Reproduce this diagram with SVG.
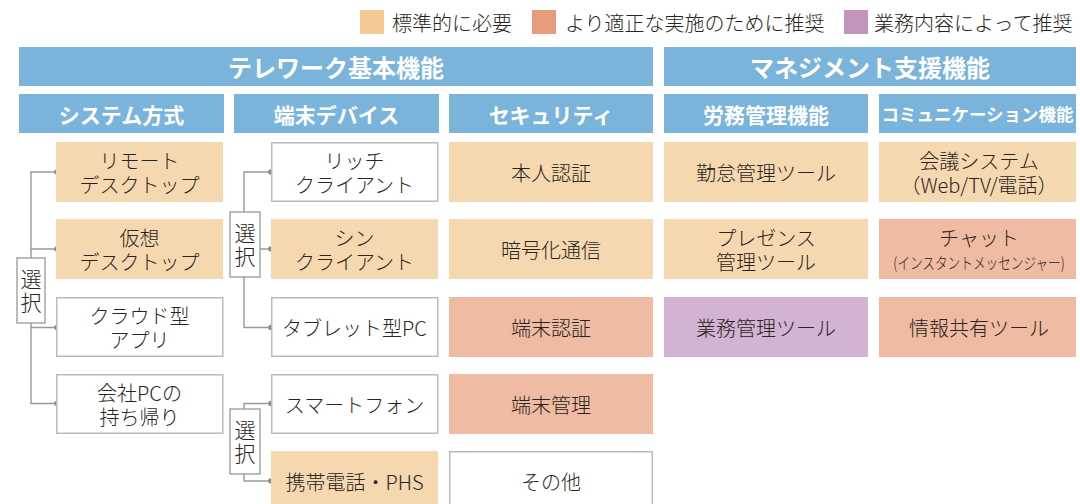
<svg xmlns="http://www.w3.org/2000/svg" width="1080" height="504" viewBox="0 0 1080 504">
<style>
.hd{fill:#7AB4DA}
.ht{font-family:"Noto Sans CJK JP","Noto Sans",sans-serif;font-weight:700;fill:#fff;text-anchor:middle;dominant-baseline:central}
.t{font-family:"Noto Sans CJK JP","Noto Sans",sans-serif;font-weight:300;font-size:20px;fill:#2A2420;text-anchor:middle;dominant-baseline:central}
.ts{font-family:"Noto Sans CJK JP","Noto Sans",sans-serif;font-weight:300;font-size:16px;fill:#2A2420;text-anchor:middle;dominant-baseline:central}
.lg{font-family:"Noto Sans CJK JP","Noto Sans",sans-serif;font-weight:300;font-size:20px;fill:#2A2420;dominant-baseline:central}
.pe{fill:#F5D8AF}
.sa{fill:#EFBBA2}
.pu{fill:#D3B3D3}
.wh{fill:#fff;stroke:#BBBBBB;stroke-width:1.5}
.ln{fill:none;stroke:#999;stroke-width:1.4}
.dot{fill:#8C8C8C}
.sel{fill:#fff;stroke:#999;stroke-width:1.3}
.st{font-family:"Noto Sans CJK JP","Noto Sans",sans-serif;font-weight:300;font-size:21px;fill:#2A2420;text-anchor:middle;writing-mode:vertical-rl;letter-spacing:2px}
</style>
<rect width="1080" height="504" fill="#fff"/>
<g id="legend">
<rect x="360" y="10" width="24" height="24" fill="#F2C990"/>
<text class="lg" x="392" y="22">標準的に必要</text>
<rect x="532" y="10" width="24" height="24" fill="#E89C7A"/>
<text class="lg" x="565" y="22">より適正な実施のために推奨</text>
<rect x="844" y="10" width="24" height="24" fill="#C394BE"/>
<text class="lg" x="874" y="22">業務内容によって推奨</text>
</g>
<g id="headers">
<rect class="hd" x="19" y="47" width="634" height="39"/>
<text class="ht" x="336" y="66.5" font-size="24">テレワーク基本機能</text>
<rect class="hd" x="664" y="47" width="412" height="39"/>
<text class="ht" x="870" y="66.5" font-size="24">マネジメント支援機能</text>
<rect class="hd" x="19" y="94" width="205" height="39"/>
<text class="ht" x="121.5" y="113.5" font-size="21">システム方式</text>
<rect class="hd" x="234" y="94" width="205" height="39"/>
<text class="ht" x="336.5" y="113.5" font-size="21">端末デバイス</text>
<rect class="hd" x="449" y="94" width="204" height="39"/>
<text class="ht" x="551" y="113.5" font-size="21">セキュリティ</text>
<rect class="hd" x="664" y="94" width="204" height="39"/>
<text class="ht" x="766" y="113.5" font-size="21">労務管理機能</text>
<rect class="hd" x="879" y="94" width="197" height="39"/>
<text class="ht" x="977.5" y="113.5" font-size="17.5">コミュニケーション機能</text>
</g>
<g id="connectors">
<path class="ln" d="M57 172H31V258M31 323V403.5H57M31 249H57M31 327.5H57"/>
<path class="ln" d="M271 172H244V212M244 277V327.5H271M260 249H271"/>
<path class="ln" d="M271 403.5H244V409M244 474V481H271"/>
<circle class="dot" cx="57" cy="172" r="2.8"/>
<circle class="dot" cx="57" cy="249" r="2.8"/>
<circle class="dot" cx="57" cy="327.5" r="2.8"/>
<circle class="dot" cx="57" cy="403.5" r="2.8"/>
<circle class="dot" cx="271" cy="172" r="2.8"/>
<circle class="dot" cx="271" cy="249" r="2.8"/>
<circle class="dot" cx="271" cy="327.5" r="2.8"/>
<circle class="dot" cx="271" cy="403.5" r="2.8"/>
<circle class="dot" cx="271" cy="481" r="2.8"/>
</g>
<g id="sel1">
<rect class="sel" x="17" y="258" width="28" height="65"/>
<text class="st" x="31" y="292">選択</text>
</g>
<g id="sel2">
<rect class="sel" x="230" y="212" width="30" height="65"/>
<text class="st" x="245" y="246">選択</text>
</g>
<g id="sel3">
<rect class="sel" x="230" y="409" width="30" height="65"/>
<text class="st" x="245" y="443">選択</text>
</g>
<g id="n-remote"><rect class="pe" x="56" y="142" width="167" height="60"/><text class="t"><tspan x="139.5" y="160">リモート</tspan><tspan x="139.5" y="184">デスクトップ</tspan></text></g>
<g id="n-virtual"><rect class="pe" x="56" y="219" width="167" height="60"/><text class="t"><tspan x="139.5" y="237">仮想</tspan><tspan x="139.5" y="261">デスクトップ</tspan></text></g>
<g id="n-cloud"><rect class="wh" x="56.75" y="297.75" width="166" height="58.5"/><text class="t"><tspan x="139.5" y="315">クラウド型</tspan><tspan x="139.5" y="339">アプリ</tspan></text></g>
<g id="n-pc"><rect class="wh" x="56.75" y="374.75" width="166" height="58.5"/><text class="t"><tspan x="139.5" y="392">会社PCの</tspan><tspan x="139.5" y="416">持ち帰り</tspan></text></g>
<g id="n-rich"><rect class="wh" x="271.75" y="142.75" width="166" height="58.5"/><text class="t"><tspan x="354.5" y="160">リッチ</tspan><tspan x="354.5" y="184">クライアント</tspan></text></g>
<g id="n-thin"><rect class="pe" x="271" y="219" width="167" height="60"/><text class="t"><tspan x="354.5" y="237">シン</tspan><tspan x="354.5" y="261">クライアント</tspan></text></g>
<g id="n-tablet"><rect class="wh" x="271.75" y="297.75" width="166" height="58.5"/><text class="t" x="354.5" y="327">タブレット型PC</text></g>
<g id="n-smart"><rect class="wh" x="271.75" y="374.75" width="166" height="58.5"/><text class="t" x="354.5" y="404">スマートフォン</text></g>
<g id="n-mobile"><rect class="pe" x="271" y="451" width="167" height="60"/><text class="t" x="354.5" y="481">携帯電話・PHS</text></g>
<g id="n-auth"><rect class="pe" x="449" y="142" width="204" height="60"/><text class="t" x="551" y="172">本人認証</text></g>
<g id="n-crypt"><rect class="pe" x="449" y="219" width="204" height="60"/><text class="t" x="551" y="249">暗号化通信</text></g>
<g id="n-devauth"><rect class="sa" x="449" y="297" width="204" height="60"/><text class="t" x="551" y="327">端末認証</text></g>
<g id="n-devmgmt"><rect class="sa" x="449" y="374" width="204" height="60"/><text class="t" x="551" y="404">端末管理</text></g>
<g id="n-other"><rect class="wh" x="449.75" y="451.75" width="202.5" height="58.5"/><text class="t" x="551" y="481">その他</text></g>
<g id="n-attend"><rect class="pe" x="664" y="142" width="204" height="60"/><text class="t" x="766" y="172">勤怠管理ツール</text></g>
<g id="n-presence"><rect class="pe" x="664" y="219" width="204" height="60"/><text class="t"><tspan x="766" y="237">プレゼンス</tspan><tspan x="766" y="261">管理ツール</tspan></text></g>
<g id="n-work"><rect class="pu" x="664" y="297" width="204" height="60"/><text class="t" x="766" y="327">業務管理ツール</text></g>
<g id="n-meeting"><rect class="pe" x="879" y="142" width="197" height="60"/><text class="t"><tspan x="979" y="160">会議システム</tspan><tspan x="979" y="184">（Web/TV/電話）</tspan></text></g>
<g id="n-chat"><rect class="sa" x="879" y="219" width="197" height="60"/><text class="t" x="979" y="237">チャット</text><text class="ts" transform="translate(979 262) scale(0.79 1)">(インスタントメッセンジャー)</text></g>
<g id="n-share"><rect class="sa" x="879" y="297" width="197" height="60"/><text class="t" x="979" y="327">情報共有ツール</text></g>
</svg>
